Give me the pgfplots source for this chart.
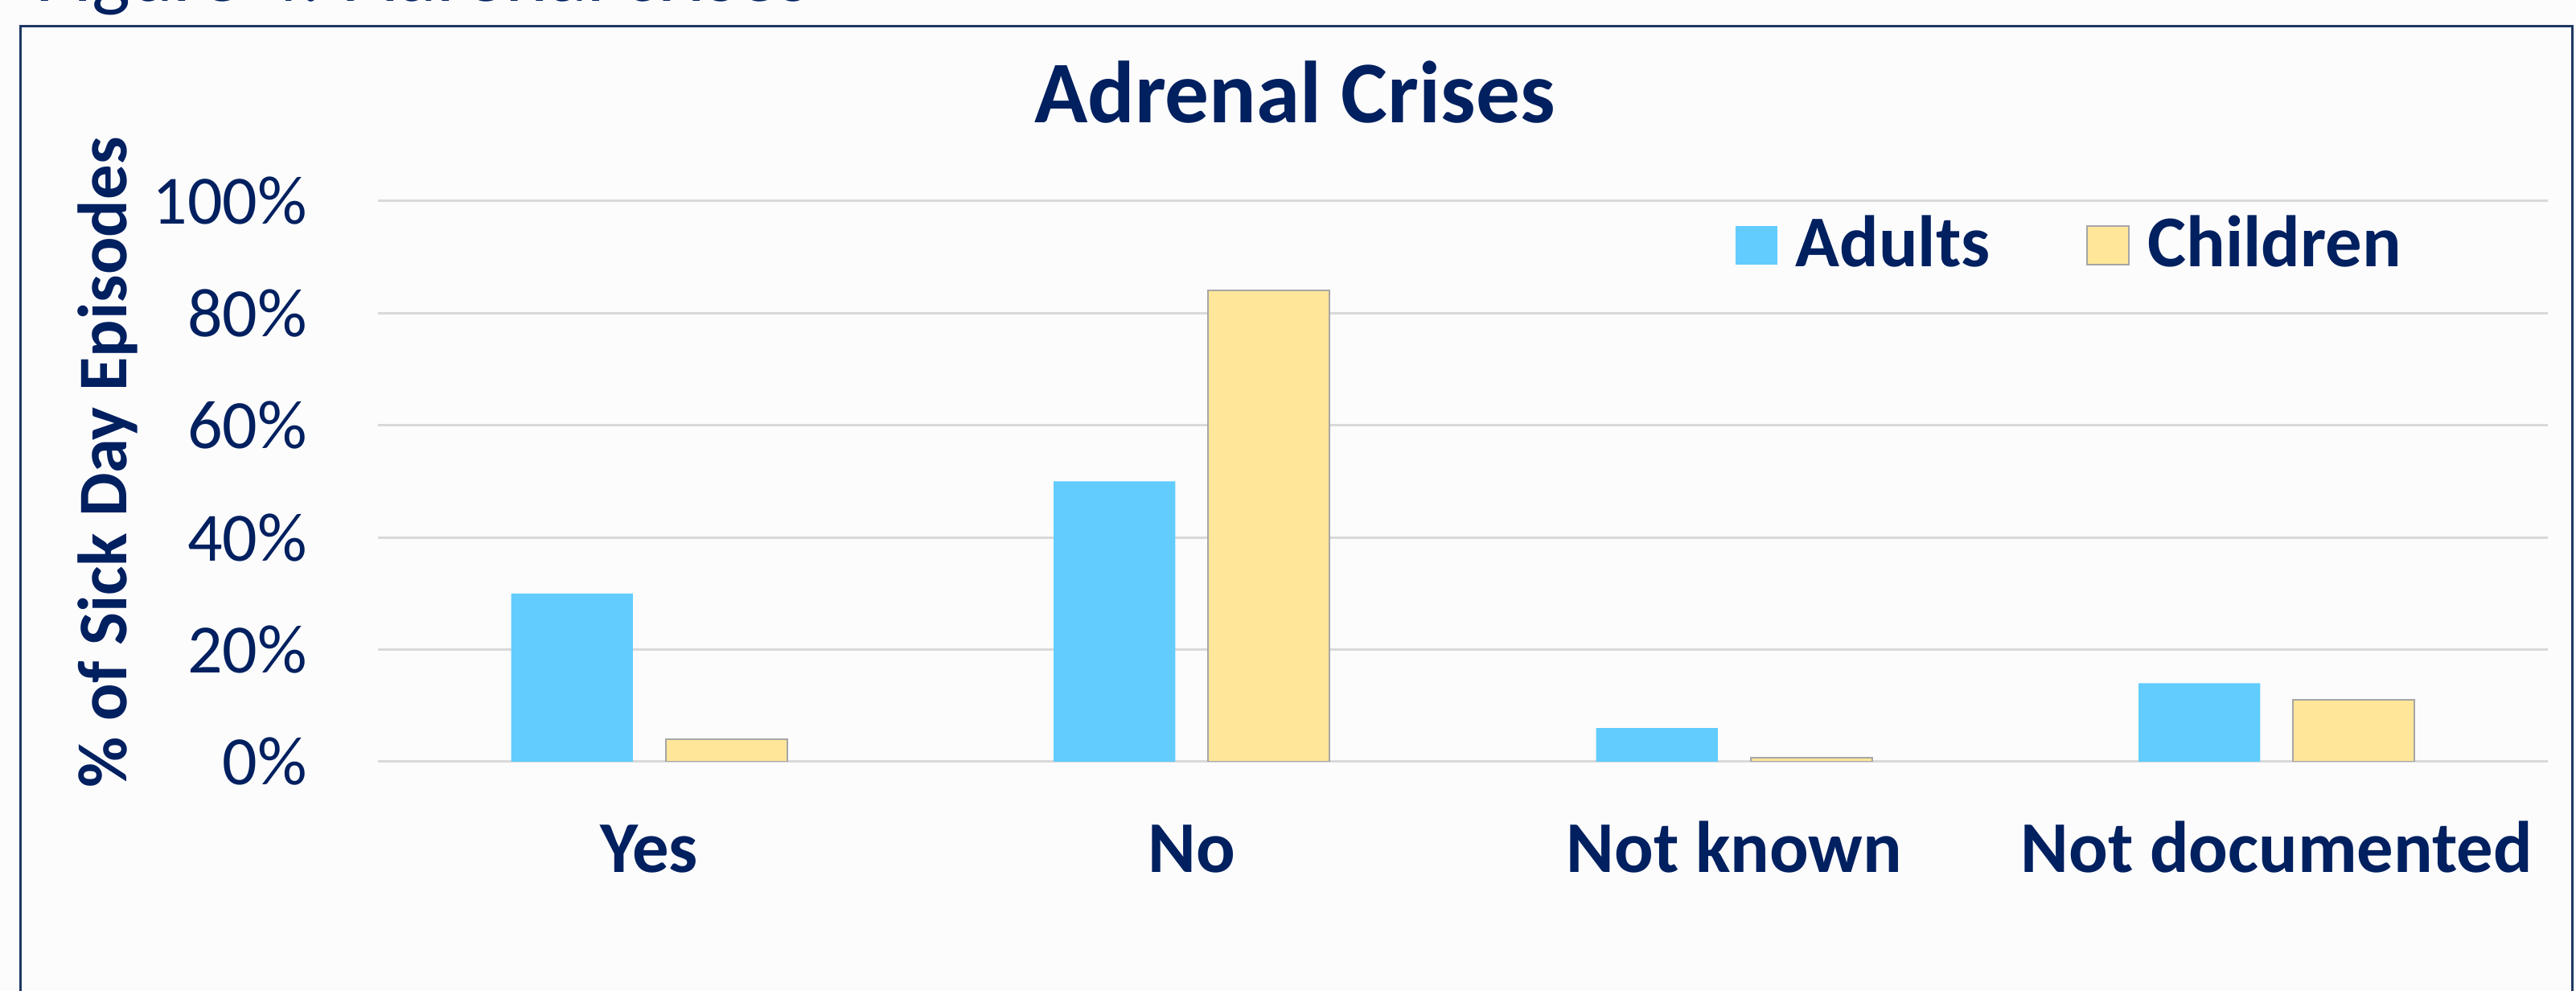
\documentclass[border=0pt]{standalone}
\usepackage{pgfplots}
\pgfplotsset{compat=1.18}
\usepackage{fontspec}
\setmainfont{Carlito}
\definecolor{navy}{RGB}{0,32,96}
\definecolor{frameblue}{RGB}{31,56,100}
\definecolor{adultblue}{RGB}{99,204,255}
\definecolor{childyellow}{RGB}{255,230,153}
\definecolor{childedge}{RGB}{166,166,166}
\definecolor{gridgray}{RGB}{217,217,217}
\definecolor{bg}{RGB}{252,252,252}
\begin{document}
\begin{tikzpicture}
\useasboundingbox (0,0) rectangle (480.45pt,184.8pt);
\fill[bg] (0,0) rectangle (480.45pt,184.8pt);
\node[anchor=base west, inner sep=0pt, text=navy, font=\fontsize{15.2}{18}\selectfont] at (6.5pt,184.5pt) {Figure 4: Adrenal crises};
\draw[frameblue, line width=0.45pt] (3.75pt,-5pt) -- (3.75pt,179.85pt) -- (479.7pt,179.85pt) -- (479.7pt,-5pt);
\node[anchor=base, inner sep=0pt, text=navy, font=\fontsize{16.4}{19}\selectfont\bfseries] at (241.5pt,161.85pt) {Adrenal Crises};
\begin{axis}[
  at={(70.5pt,42.75pt)}, anchor=south west,
  scale only axis, width=404.7pt, height=104.55pt,
  ybar,
  xmin=-0.5, xmax=3.5, ymin=0, ymax=100,
  xtick={0,1,2,3},
  xticklabels={Yes,No,Not known,Not documented},
  ytick={0,20,40,60,80,100},
  yticklabels={0\%,20\%,40\%,60\%,80\%,100\%},
  axis line style={draw=none},
  major tick length=0pt,
  ymajorgrids,
  grid style={gridgray, line width=0.45pt},
  yticklabel style={font=\fontsize{12.9}{15}\selectfont, text=navy, anchor=east, inner sep=0pt, xshift=-13pt},
  xticklabel style={font=\fontsize{13.6}{16}\selectfont\bfseries, text=navy, anchor=base, inner sep=0pt, yshift=-20.7pt},
  ylabel={\% of Sick Day Episodes},
  ylabel style={at={(axis description cs:-0.116,0.534)}, anchor=base, font=\fontsize{13}{15}\selectfont\bfseries, text=navy},
  bar width=0.224,
  legend style={at={(0.625,0.921)}, anchor=west, draw=none, fill=none, inner sep=0pt,
    font=\fontsize{13.6}{16}\selectfont\bfseries, text=navy,
    nodes={inner sep=0pt},
    /tikz/every odd column/.append style={column sep=3.45pt},
    /tikz/every even column/.append style={column sep=17.85pt}},
  legend columns=2,
  legend image code/.code={\path[#1] (0pt,-3.6pt) rectangle (7.8pt,3.6pt);},
]
\addplot[fill=adultblue, draw=none, bar shift=-0.1423] coordinates {(0,30) (1,50) (2,6) (3,14)};
\addlegendentry{Adults}
\addplot[fill=childyellow, draw=childedge, line width=0.3pt, bar shift=0.1423] coordinates {(0,4) (1,84.1) (2,0.7) (3,11)};
\addlegendentry{Children}
\end{axis}
\end{tikzpicture}
\end{document}
